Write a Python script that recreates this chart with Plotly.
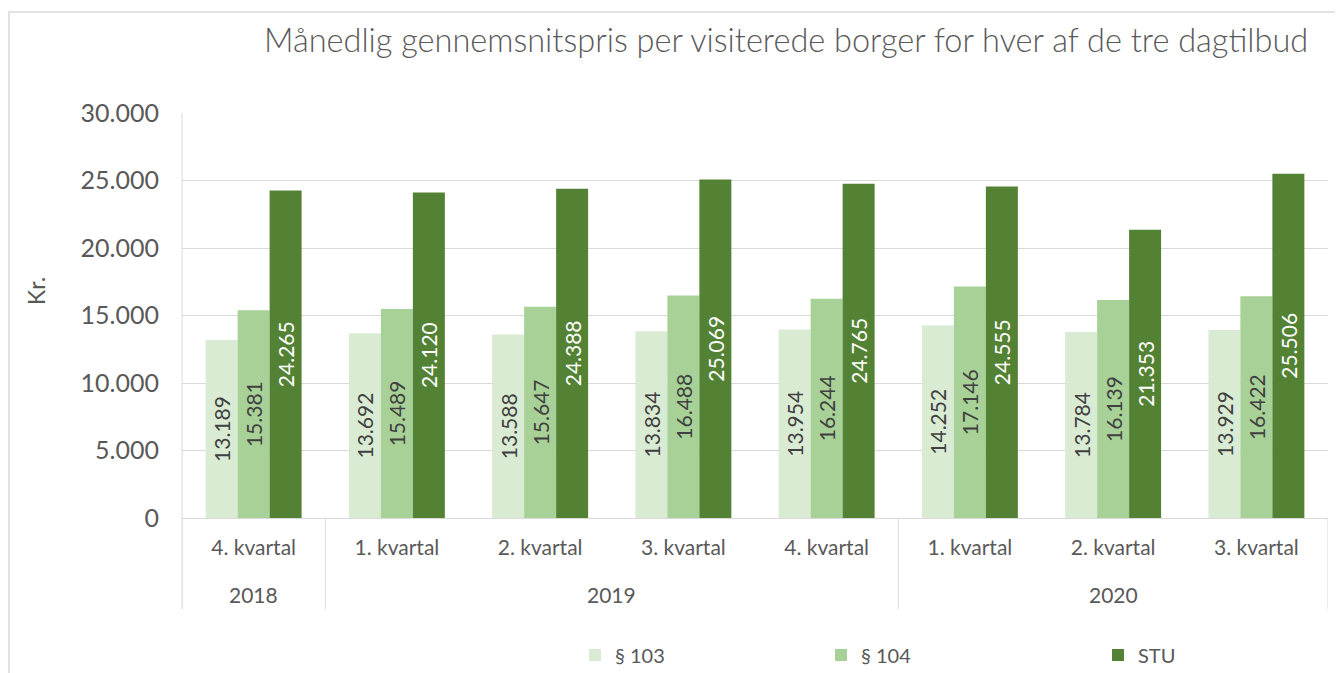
import plotly.graph_objects as go

quarters = ["4. kvartal", "1. kvartal", "2. kvartal", "3. kvartal", "4. kvartal",
            "1. kvartal", "2. kvartal", "3. kvartal"]
years = ["2018", "2019", "2020"]
year_spans = [(0, 0), (1, 4), (5, 7)]
s103 = [13189, 13692, 13588, 13834, 13954, 14252, 13784, 13929]
s104 = [15381, 15489, 15647, 16488, 16244, 17146, 16139, 16422]
stu = [24265, 24120, 24388, 25069, 24765, 24555, 21353, 25506]
series_names = ["§ 103", "§ 104", "STU"]
colors = ["#D9EBD3", "#A7D196", "#548235"]
label_colors = ["#404040", "#404040", "#FFFFFF"]
yticks = [0, 5000, 10000, 15000, 20000, 25000, 30000]

W, H = 1343, 673
OFF = 8  # page body margin
L, R, T, B = 174, 23, 105, 163
pw, ph = W - L - R, H - T - B

def px_x(p):  # screen px -> paper
    return (p - OFF - L) / pw

def px_y(p):
    return (H - B - (p - OFF)) / ph

x = list(range(len(quarters)))
fig = go.Figure()
legend_ids = ["legend", "legend2", "legend3"]
for i, (name, vals) in enumerate(zip(series_names, [s103, s104, stu])):
    fig.add_trace(go.Bar(
        x=x, y=vals, name=name, marker=dict(color=colors[i], line=dict(width=0)),
        texttemplate="%{y:,d}", textposition="inside", insidetextanchor="middle",
        textangle=-90, textfont=dict(color=label_colors[i], size=21, family="Lato"),
        legend=legend_ids[i], hoverinfo="skip", showlegend=True,
    ))

fig.update_layout(
    width=W, height=H, separators=",.", showlegend=True,
    margin=dict(l=L, r=R, t=T, b=B, autoexpand=False),
    paper_bgcolor="white", plot_bgcolor="white",
    barmode="group", bargap=0.33, bargroupgap=0,
    font=dict(family="Lato", color="#595959"),
    uniformtext=dict(mode=False),
)
fig.update_xaxes(
    range=[-0.5, len(quarters) - 0.5], tickvals=x, ticktext=quarters,
    showgrid=False, zeroline=False, showline=True, linecolor="#D9D9D9", linewidth=1,
    ticks="", tickfont=dict(size=21, color="#595959"), ticklabelstandoff=11,
)
fig.update_yaxes(
    range=[0, 30000], tickvals=yticks, tickformat=",d",
    showgrid=True, gridcolor="#D9D9D9", gridwidth=1, zeroline=False,
    showline=False, ticks="", tickfont=dict(size=25, color="#595959"),
    ticklabelstandoff=22,
)

# legends
leg_px = [575, 821, 1098]
for lid, lx in zip(legend_ids, leg_px):
    fig.update_layout({lid: dict(
        x=px_x(lx), y=px_y(655), xanchor="left", yanchor="middle",
        orientation="h", bgcolor="rgba(0,0,0,0)", borderwidth=0,
        font=dict(size=20, color="#595959", family="Lato"),
        itemwidth=30, traceorder="normal",
    )})

shapes = []
shapes.append(dict(type="rect", xref="paper", yref="paper",
                   x0=px_x(9), x1=px_x(1370), y0=px_y(700), y1=px_y(12),
                   line=dict(color="#D9D9D9", width=1.5), layer="below"))
shapes.append(dict(type="line", xref="paper", yref="paper",
                   x0=0, x1=0, y0=px_y(609), y1=1,
                   line=dict(color="#D9D9D9", width=1)))
for bx in [-0.5, 0.5, 4.5, 7.5]:
    shapes.append(dict(type="line", xref="x", yref="paper",
                       x0=bx, x1=bx, y0=px_y(609), y1=0,
                       line=dict(color="#D9D9D9", width=1)))
fig.update_layout(shapes=shapes)

annotations = []
for yr, (a, b) in zip(years, year_spans):
    annotations.append(dict(text=yr, x=(a + b) / 2, xref="x", y=px_y(594), yref="paper",
                            showarrow=False, font=dict(size=21, color="#595959"),
                            xanchor="center", yanchor="middle"))
annotations.append(dict(text="Kr.", x=px_x(36), xref="paper", y=px_y(291), yref="paper",
                        showarrow=False, textangle=-90,
                        font=dict(size=23, color="#595959"),
                        xanchor="center", yanchor="middle"))
annotations.append(dict(text="Månedlig gennemsnitspris per visiterede borger for hver af de tre dagtilbud",
                        x=px_x(786), xref="paper", y=px_y(39), yref="paper",
                        showarrow=False, font=dict(size=32.5, color="#595959", weight=300),
                        xanchor="center", yanchor="middle"))
fig.update_layout(annotations=annotations)

fig.write_html("out.html")
